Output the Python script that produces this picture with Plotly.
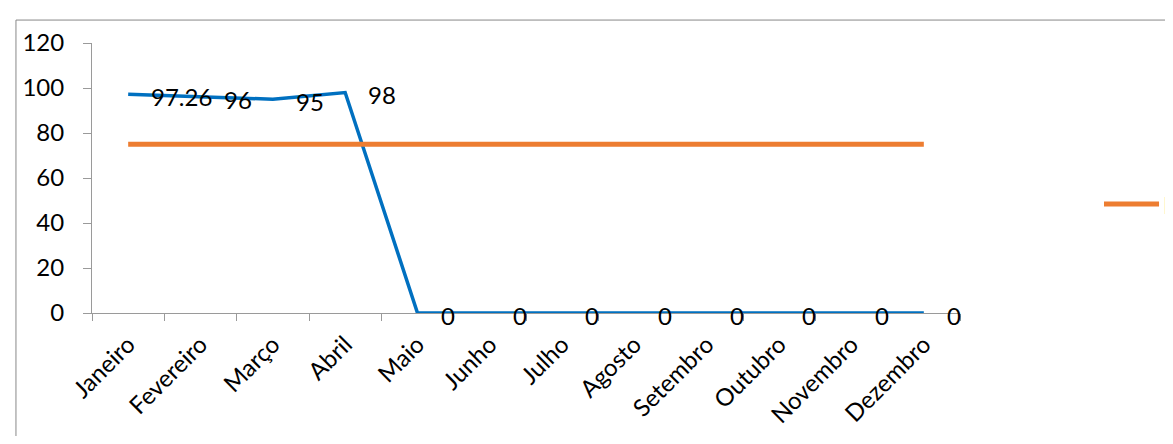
import plotly.graph_objects as go

months = ["Janeiro", "Fevereiro", "Março", "Abril", "Maio", "Junho", "Julho",
          "Agosto", "Setembro", "Outubro", "Novembro", "Dezembro"]
realizado = [97.26, 96, 95, 98, 0, 0, 0, 0, 0, 0, 0, 0]
realizado_labels = ["97.26", "96", "95", "98", "0", "0", "0", "0", "0", "0", "0", "0"]
meta = [75] * 12
meta_name = "Meta"
y_ticks = [0, 20, 40, 60, 80, 100, 120]

FONT = "Lato"
FS = 24
ORANGE = "#ED7D31"

fig = go.Figure()
fig.add_trace(go.Scatter(
    x=months, y=realizado, mode="lines", name="Realizado",
    line=dict(color="#0070C0", width=3.5), showlegend=False,
))
fig.add_trace(go.Scatter(
    x=months, y=meta, mode="lines", name=meta_name,
    line=dict(color=ORANGE, width=5), showlegend=False,
))

for m, v, t in zip(months, realizado, realizado_labels):
    fig.add_annotation(x=m, y=v, text=t, showarrow=False, xanchor="left",
                       xshift=21, yshift=-2,
                       font=dict(family=FONT, size=FS, color="#000000"))

# outer chart-area border (Excel style)
fig.add_shape(type="rect", xref="paper", yref="paper",
              x0=-0.0876, x1=1.5, y0=-1.0, y1=1.085,
              line=dict(color="#888888", width=1), fillcolor="rgba(0,0,0,0)",
              layer="below")

# legend key (Excel-style long line key, partly cut by the right edge)
fig.add_shape(type="line", xref="paper", yref="paper",
              x0=1.1659, x1=1.2293, y0=0.4037, y1=0.4037,
              line=dict(color=ORANGE, width=5))
fig.add_annotation(xref="paper", yref="paper", x=1.2325, y=0.4037,
                   text=meta_name, showarrow=False, xanchor="left",
                   yanchor="middle", borderpad=0,
                   font=dict(family=FONT, size=FS, color="#000000"))

# page body adds an 8px offset; keep the page within the window
fig.update_layout(
    width=1165, height=428,
    margin=dict(l=84, r=213, t=35, b=123, autoexpand=False),
    paper_bgcolor="white", plot_bgcolor="white",
    font=dict(family=FONT, size=FS, color="#000000"),
    showlegend=False,
    xaxis=dict(
        type="category", categoryorder="array", categoryarray=months,
        range=[-0.5, 11.5], tickson="boundaries", ticks="outside", ticklen=7,
        tickcolor="#9a9a9a", showline=True, linecolor="#9a9a9a", linewidth=1,
        showgrid=False, zeroline=False, tickangle=-45, automargin=False,
        tickfont=dict(family=FONT, size=FS), ticklabelstandoff=7,
    ),
    yaxis=dict(
        range=[0, 120], tickvals=y_ticks, ticks="outside", ticklen=8,
        tickcolor="#9a9a9a", showline=True, linecolor="#9a9a9a", linewidth=1,
        showgrid=False, zeroline=False, automargin=False,
        tickfont=dict(family=FONT, size=FS), ticklabelstandoff=14,
    ),
)

fig.write_html("out.html")
